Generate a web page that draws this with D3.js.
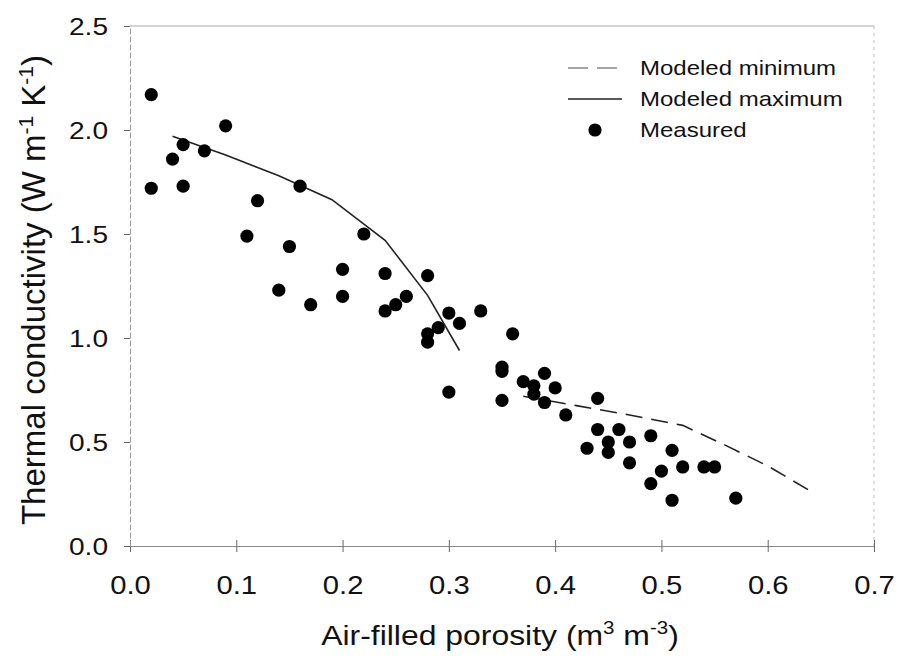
<!DOCTYPE html>
<html>
<head>
<meta charset="utf-8">
<script src="https://cdn.jsdelivr.net/npm/d3@7"></script>
<style>
  body { margin: 0; background: #fff; }
  text { font-family: "Liberation Sans", Arial, Helvetica, sans-serif; fill: #111; }
</style>
</head>
<body>
<div class="chart_container"></div>
<script>
// 資料 measured points
const measuredX = [0.02, 0.02, 0.04, 0.05, 0.05, 0.07, 0.09, 0.11, 0.12, 0.14,
                   0.15, 0.16, 0.17, 0.20, 0.20, 0.22, 0.24, 0.24, 0.25, 0.26,
                   0.28, 0.28, 0.28, 0.29, 0.30, 0.30, 0.31, 0.33, 0.35, 0.35,
                   0.35, 0.36, 0.37, 0.38, 0.38, 0.39, 0.39, 0.40, 0.41, 0.43,
                   0.44, 0.44, 0.45, 0.45, 0.46, 0.47, 0.47, 0.49, 0.49, 0.50,
                   0.51, 0.51, 0.52, 0.54, 0.55, 0.57]
const measuredY = [2.17, 1.72, 1.86, 1.93, 1.73, 1.90, 2.02, 1.49, 1.66, 1.23,
                   1.44, 1.73, 1.16, 1.33, 1.20, 1.50, 1.31, 1.13, 1.16, 1.20,
                   1.30, 1.02, 0.98, 1.05, 1.12, 0.74, 1.07, 1.13, 0.86, 0.84,
                   0.70, 1.02, 0.79, 0.77, 0.73, 0.83, 0.69, 0.76, 0.63, 0.47,
                   0.71, 0.56, 0.50, 0.45, 0.56, 0.50, 0.40, 0.53, 0.30, 0.36,
                   0.46, 0.22, 0.38, 0.38, 0.38, 0.23]

// modeled curves
const maxX = [0.04, 0.09, 0.14, 0.19, 0.24, 0.28, 0.31]
const maxY = [1.97, 1.88, 1.78, 1.665, 1.47, 1.205, 0.94]
const minX = [0.37, 0.42, 0.47, 0.52, 0.56, 0.60, 0.64]
const minY = [0.72, 0.675, 0.63, 0.58, 0.485, 0.385, 0.265]

// ticks
const xTicks = [0, 0.1, 0.2, 0.3, 0.4, 0.5, 0.6, 0.7]
const yTicks = [0, 0.5, 1.0, 1.5, 2.0, 2.5]
const legendLabels = ['Modeled minimum', 'Modeled maximum', 'Measured']

const svg_width = 897
const svg_height = 659
const margin = {top: 26, right: 23, bottom: 113, left: 130}
const chart_width = svg_width - margin.left - margin.right
const chart_height = svg_height - margin.top - margin.bottom
const stretch = 1.17  // 原圖文字較寬

const svg = d3.select('.chart_container').append('svg')
  .attr('width', svg_width).attr('height', svg_height)
const g = svg.append('g').attr('transform', `translate(${margin.left},${margin.top})`)

const xScale = d3.scaleLinear([0, 0.7], [0, chart_width])
const yScale = d3.scaleLinear([0, 2.5], [chart_height, 0])

// frame top / right
g.append('line').attr('x1', 0).attr('x2', chart_width).attr('y1', 0).attr('y2', 0)
  .attr('stroke', '#aaa').attr('stroke-width', 1.2)
g.append('line').attr('x1', chart_width).attr('x2', chart_width).attr('y1', 0).attr('y2', chart_height)
  .attr('stroke', '#bbb').attr('stroke-dasharray', '3,4')

// x axis
const xAxis = d3.axisBottom(xScale).tickValues(xTicks).tickFormat(d3.format('.1f'))
  .tickSizeInner(6).tickSizeOuter(0)
const xAxisDraw = g.append('g').attr('transform', `translate(0,${chart_height})`).call(xAxis)
xAxisDraw.select('.domain').attr('stroke', '#888')
xAxisDraw.selectAll('.tick line').attr('y1', -6).attr('y2', 6).attr('stroke', '#666')
xAxisDraw.selectAll('text').attr('y', 48).attr('dy', 0)
  .attr('font-size', 25).attr('font-family', null).attr('fill', '#111')
  .attr('transform', `scale(${stretch},1)`)

// y axis
const yAxis = d3.axisLeft(yScale).tickValues(yTicks).tickFormat(d3.format('.1f'))
  .tickSizeInner(6).tickSizeOuter(0)
const yAxisDraw = g.append('g').call(yAxis)
yAxisDraw.select('.domain').attr('stroke', '#999').attr('stroke-dasharray', '6,2')
yAxisDraw.selectAll('.tick line').attr('stroke', '#666')
yAxisDraw.selectAll('text').attr('x', -22 / stretch).attr('dy', '0.36em')
  .attr('font-size', 24).attr('font-family', null).attr('fill', '#111')
  .attr('transform', `scale(${stretch},1)`)

// 曲線
const line = d3.line().x(d => xScale(d[0])).y(d => yScale(d[1]))
const maxData = maxX.map((x, i) => [x, maxY[i]])
const minData = minX.map((x, i) => [x, minY[i]])

g.append('path').datum(maxData).attr('d', line)
  .attr('fill', 'none').attr('stroke', '#222').attr('stroke-width', 1.6)
g.append('path').datum(minData).attr('d', line)
  .attr('fill', 'none').attr('stroke', '#222').attr('stroke-width', 1.6)
  .attr('stroke-dasharray', '17,9')

// 點
const points = measuredX.map((x, i) => ({x: x, y: measuredY[i]}))
g.selectAll('.dot').data(points).enter().append('circle')
  .attr('class', 'dot')
  .attr('cx', d => xScale(d.x)).attr('cy', d => yScale(d.y))
  .attr('r', 6.6).attr('fill', '#000')

// legend
const legend = svg.append('g').attr('transform', 'translate(568,68)')
const rowH = 31
legend.append('line').attr('x1', 0).attr('x2', 54).attr('y1', 0).attr('y2', 0)
  .attr('stroke', '#888').attr('stroke-width', 1.4).attr('stroke-dasharray', '20,9')
legend.append('line').attr('x1', 0).attr('x2', 54).attr('y1', rowH).attr('y2', rowH)
  .attr('stroke', '#222').attr('stroke-width', 1.6)
legend.append('circle').attr('cx', 27).attr('cy', rowH * 2).attr('r', 6.6).attr('fill', '#000')
legend.selectAll('.legend-label').data(legendLabels).enter()
  .append('g').attr('transform', (d, i) => `translate(72,${i * rowH}) scale(1.2,1)`)
  .append('text').attr('class', 'legend-label')
  .attr('dy', '0.36em').attr('font-size', 20).text(d => d)

// axis titles
const xTitle = svg.append('g').attr('transform', `translate(${margin.left + chart_width / 2 - 2},645) scale(1.14,1)`)
  .append('text').attr('text-anchor', 'middle').attr('font-size', 28)
xTitle.append('tspan').text('Air-filled porosity (m')
xTitle.append('tspan').attr('dy', -11).attr('font-size', 18).text('3')
xTitle.append('tspan').attr('dy', 11).text(' m')
xTitle.append('tspan').attr('dy', -11).attr('font-size', 18).text('-3')
xTitle.append('tspan').attr('dy', 11).text(')')

const yTitle = svg.append('g').attr('transform', 'translate(45,290) rotate(-90)')
  .append('text').attr('text-anchor', 'middle').attr('font-size', 33)
yTitle.append('tspan').text('Thermal conductivity (W m')
yTitle.append('tspan').attr('dy', -12).attr('font-size', 21).text('-1')
yTitle.append('tspan').attr('dy', 12).text(' K')
yTitle.append('tspan').attr('dy', -12).attr('font-size', 21).text('-1')
yTitle.append('tspan').attr('dy', 12).text(')')
</script>
</body>
</html>
